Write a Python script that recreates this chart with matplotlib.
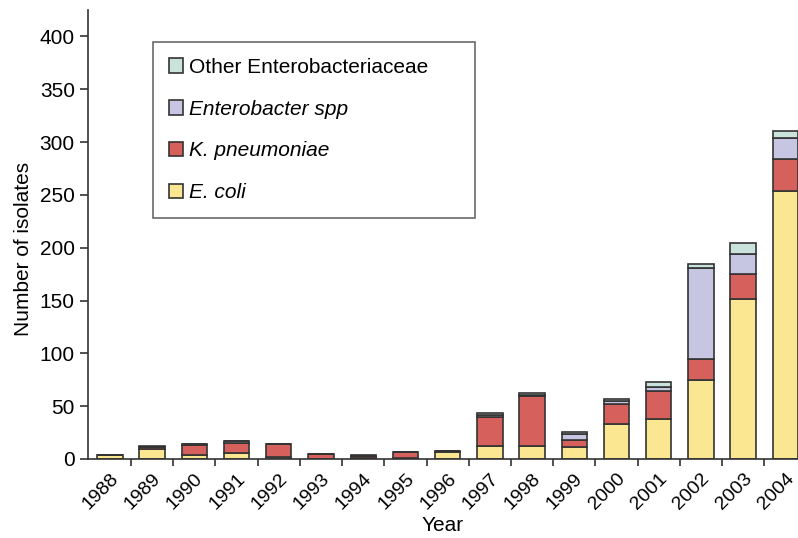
import numpy as np
import matplotlib.pyplot as plt
from matplotlib.ticker import FixedLocator
from matplotlib.transforms import ScaledTranslation

plt.rcParams['font.family'] = ['Liberation Sans', 'DejaVu Sans']

years = ['1988', '1989', '1990', '1991', '1992', '1993', '1994', '1995', '1996',
         '1997', '1998', '1999', '2000', '2001', '2002', '2003', '2004']
e_coli = [4, 9, 4, 6, 2, 0, 1, 1, 7, 12, 12, 11, 33, 38, 75, 151, 254]
k_pneu = [0, 2, 9, 9, 12, 5, 2, 6, 1, 28, 48, 7, 19, 26, 20, 24, 30]
entero = [0, 0, 1, 2, 0, 0, 0, 0, 0, 2, 1, 6, 3, 4, 86, 19, 20]
other = [0, 1, 0, 0, 0, 0, 1, 0, 0, 2, 1, 2, 2, 5, 4, 10, 6]

series = [
    ('E. coli', e_coli, '#fbe792'),
    ('K. pneumoniae', k_pneu, '#d6605c'),
    ('Enterobacter spp', entero, '#c7c6e2'),
    ('Other Enterobacteriaceae', other, '#c9e2dc'),
]

fig = plt.figure(figsize=(7.98, 5.38), dpi=100)
ax = fig.add_axes([88/798, 79/538, 710/798, 449/538])

x = np.arange(len(years))
bottom = np.zeros(len(years))
handles = []
for name, vals, col in series:
    b = ax.bar(x, vals, 0.6, bottom=bottom, color=col, edgecolor='#333333',
               linewidth=1.2, label=name)
    handles.append(b)
    bottom += np.array(vals)

ax.set_xlim(-0.52, 16.3)
ax.set_ylim(0, 425)
ax.set_yticks(range(0, 401, 50))
ax.set_xticks(x)
ax.set_xticklabels(years, rotation=45, ha='right', rotation_mode='anchor')
shift = ScaledTranslation(-4/100, 0, fig.dpi_scale_trans)
for lbl in ax.get_xticklabels():
    lbl.set_transform(lbl.get_transform() + shift)
ax.xaxis.set_minor_locator(FixedLocator(x[:-1] + 0.5))
ax.tick_params(axis='x', which='major', length=0, labelsize=14, pad=8)
ax.tick_params(axis='x', which='minor', length=5, width=1.2, color='#333333')
ax.tick_params(axis='y', length=6, width=1.2, color='#333333', labelsize=15)
for s in ['top', 'right']:
    ax.spines[s].set_visible(False)
for s in ['left', 'bottom']:
    ax.spines[s].set_linewidth(1.2)
    ax.spines[s].set_color('#333333')

ax.set_ylabel('Number of isolates', fontsize=15)
ax.yaxis.set_label_coords(-0.078, 0.468)
ax.set_xlabel('Year', fontsize=15, labelpad=2)

leg = ax.legend(handles[::-1], [s[0] for s in series][::-1],
                loc='upper left', bbox_to_anchor=(153/798, 1 - 215/538, 322/798, 173/538),
                bbox_transform=fig.transFigure, borderaxespad=0, mode='expand',
                fancybox=False, edgecolor='#444444', fontsize=15,
                handlelength=0.7, handleheight=0.7, labelspacing=1.1,
                handletextpad=0.3, borderpad=0.75)
leg.get_frame().set_linewidth(1.2)
for t in leg.get_texts()[1:]:
    t.set_fontstyle('italic')

fig.savefig('out.png', dpi=100)
